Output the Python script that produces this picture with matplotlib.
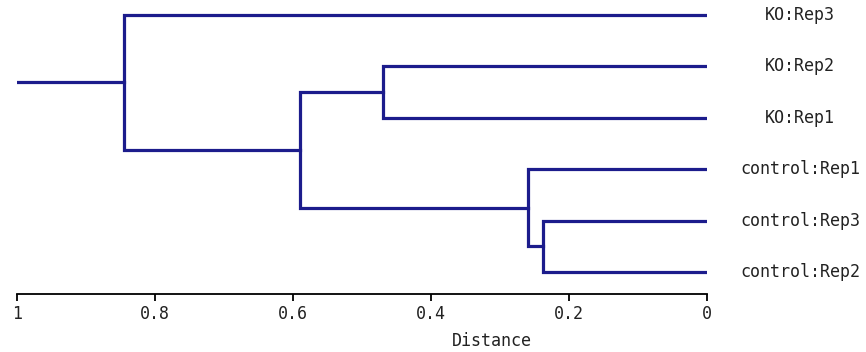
import matplotlib
matplotlib.use('Agg')
import matplotlib.pyplot as plt
import matplotlib.transforms as mtransforms

# leaves, top to bottom
labels = ['KO:Rep3', 'KO:Rep2', 'KO:Rep1', 'control:Rep1', 'control:Rep3', 'control:Rep2']
# merges: (child a, child b, distance); new nodes numbered from len(labels)
merges = [(4, 5, 0.238), (3, 6, 0.259), (1, 2, 0.470), (8, 7, 0.590), (0, 9, 0.845)]
root_start = 1.0
ticks = [1, 0.8, 0.6, 0.4, 0.2, 0]
tick_labels = ['1', '0.8', '0.6', '0.4', '0.2', '0']

col = '#1c1c8c'
lw = 2.3
fs = 12

fig = plt.figure(figsize=(8.66, 3.52), dpi=100)
ax = fig.add_axes([17/866, 1-294/352, 690/866, 289/352])

# node positions (distance, y)
pos = {i: (0.0, i) for i in range(len(labels))}
for k, (a, b, h) in enumerate(merges):
    xa, ya = pos[a]
    xb, yb = pos[b]
    ax.plot([xa, h, h, xb], [ya, ya, yb, yb], color=col, lw=lw, solid_joinstyle='miter')
    pos[len(labels)+k] = (h, (ya+yb)/2)

rx, ry = pos[len(labels)+len(merges)-1]
ax.plot([root_start, rx], [ry, ry], color=col, lw=lw)

trans = mtransforms.blended_transform_factory(fig.transFigure, ax.transData)
for i, lab in enumerate(labels):
    ax.text(800/866, pos[i][1], lab, transform=trans, ha='center', va='center',
            fontsize=fs, family='DejaVu Sans Mono', color='#222222')

ax.set_xlim(1, 0)
ax.set_ylim(5 + 22/51.4, -10/51.4)
ax.set_xticks(ticks)
ax.set_xticklabels(tick_labels, family='DejaVu Sans Mono', fontsize=fs, color='#222222')
ax.set_yticks([])
for s in ['top', 'right', 'left']:
    ax.spines[s].set_visible(False)
ax.spines['bottom'].set_linewidth(1.3)
ax.tick_params(axis='x', direction='out', length=5, width=1.3, pad=3)
ax.set_xlabel('Distance', family='DejaVu Sans Mono', fontsize=fs, color='#222222')
ax.xaxis.set_label_coords((492-17)/690, -0.13)

fig.savefig('out.png', dpi=100)
